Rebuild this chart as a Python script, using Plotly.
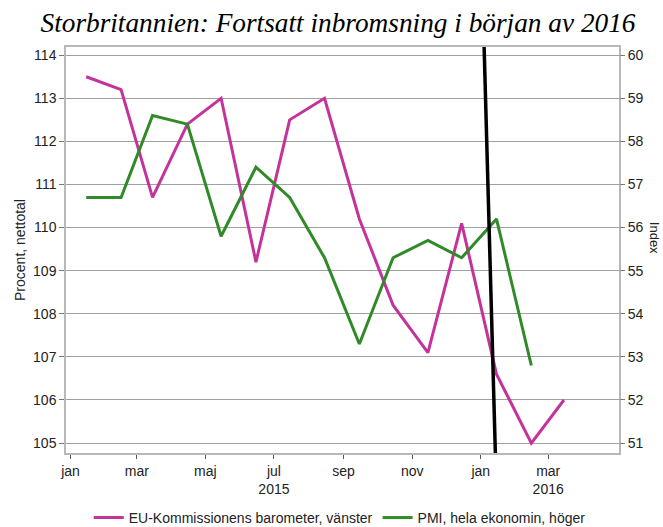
import plotly.graph_objects as go

months = ["2015-01-15", "2015-02-15", "2015-03-15", "2015-04-15", "2015-05-15",
          "2015-06-15", "2015-07-15", "2015-08-15", "2015-09-15", "2015-10-15",
          "2015-11-15", "2015-12-15", "2016-01-15", "2016-02-15", "2016-03-15"]
eu_barometer = [113.5, 113.2, 110.7, 112.4, 113.0, 109.2, 112.5, 113.0, 110.2,
                108.2, 107.1, 110.1, 106.6, 105.0, 106.0]
pmi = [56.7, 56.7, 58.6, 58.4, 55.8, 57.4, 56.7, 55.3, 53.3, 55.3, 55.7, 55.3,
       56.2, 52.8]

tick_dates = ["2015-01-01", "2015-03-01", "2015-05-01", "2015-07-01", "2015-09-01",
              "2015-11-01", "2016-01-01", "2016-03-01"]
tick_text = ["jan", "mar", "maj", "jul<br>2015", "sep", "nov", "jan", "mar<br>2016"]

marker_line_dates = ["2016-01-04", "2016-01-14"]

magenta = "#C4339B"
green = "#2F8A27"
grid = "#a0a0a0"
frame = "#b8b8b8"

fig = go.Figure()
fig.add_trace(go.Scatter(x=months, y=eu_barometer, mode="lines",
                         name="EU-Kommissionens barometer, vänster",
                         line=dict(color=magenta, width=3), yaxis="y"))
fig.add_trace(go.Scatter(x=months[:len(pmi)], y=pmi, mode="lines",
                         name="PMI, hela ekonomin, höger",
                         line=dict(color=green, width=3), yaxis="y2"))

fig.add_shape(type="line", xref="x", yref="paper",
              x0=marker_line_dates[0], y0=1, x1=marker_line_dates[1], y1=0,
              line=dict(color="black", width=3.5))

fig.update_layout(
    width=663, height=527,
    margin=dict(l=66, r=44, t=47, b=74, autoexpand=False),
    paper_bgcolor="white", plot_bgcolor="white",
    font=dict(family="Liberation Sans, Arial, sans-serif", size=14, color="#222"),
    title=dict(text="<i>Storbritannien: Fortsatt inbromsning i början av 2016</i>",
               font=dict(family="Liberation Serif, Times New Roman, serif", size=27.3, color="#000"),
               x=338/663, xanchor="center", y=1 - 22/527, yanchor="middle"),
    xaxis=dict(type="date", range=["2014-12-28", "2016-05-03"],
               tickvals=tick_dates, ticktext=tick_text,
               ticks="outside", ticklen=4, tickcolor="#555",
               showgrid=False, showline=True, linecolor=frame, linewidth=1.5,
               mirror=True, tickfont=dict(size=14)),
    yaxis=dict(range=[104.77, 114.19], dtick=1, tick0=105,
               ticks="outside", ticklen=5, tickcolor="#777",
               showgrid=True, gridcolor=grid, gridwidth=1,
               showline=True, linecolor=frame, linewidth=1.5, mirror=True,
               zeroline=False,
               title=dict(text="Procent, nettotal", font=dict(size=14), standoff=4)),
    yaxis2=dict(range=[50.77, 60.19], dtick=1, tick0=51, overlaying="y", side="right",
                ticks="outside", ticklen=5, tickcolor="#777",
                showgrid=False, zeroline=False, showline=False),
    legend=dict(orientation="h", x=0.495, xanchor="center", y=-0.16, yanchor="middle",
                font=dict(size=14), itemwidth=30, tracegroupgap=0),
    showlegend=True,
    annotations=[dict(text="Index", textangle=90, xref="paper", yref="paper",
                      x=(654 - 66) / 553, y=0.53, showarrow=False, xanchor="center",
                      yanchor="middle", font=dict(size=13))],
)

fig.write_html("out.html", config={"displayModeBar": False},
               post_script="document.body.style.margin='0';document.body.style.overflow='hidden';")
